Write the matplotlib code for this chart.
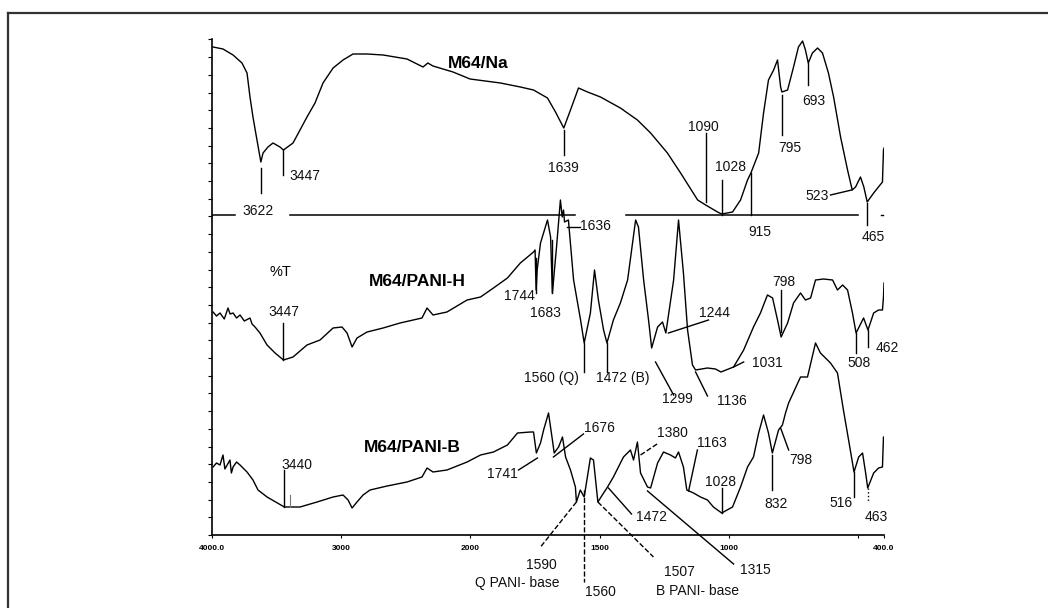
import numpy as np
import matplotlib
matplotlib.use("Agg")
import matplotlib.pyplot as plt
from matplotlib.lines import Line2D
from matplotlib.ticker import FixedLocator, MultipleLocator

plt.rcParams["font.family"] = ["Liberation Sans", "DejaVu Sans"]

# FTIR spectra, wavenumber (cm-1) vs. stacked %T (arbitrary offset units)
na_wn = [3992, 3915, 3837, 3768, 3729, 3706, 3683, 3652, 3622, 3605, 3567, 3528,
         3474, 3447, 3373, 3319, 3265, 3203, 3141, 3063, 2986, 2909, 2800, 2676,
         2491, 2367, 2330, 2290, 2135, 2003, 1884, 1807, 1756, 1702, 1671, 1639,
         1613, 1582, 1547, 1497, 1420, 1354, 1303, 1238, 1187, 1121, 1090, 1044,
         1028, 986, 955, 928, 915, 885, 866, 847, 827, 812, 800, 795, 773, 750,
         731, 715, 704, 693, 677, 657, 638, 615, 595, 568, 541, 523, 510, 491,
         478, 465, 440, 406, 402, 400]
na_t = [488, 486, 480, 472, 462, 438, 418, 395, 373, 382, 388, 392,
        388, 385, 392, 405, 418, 432, 452, 467, 475, 481, 481, 480,
        476, 468, 472, 469, 463, 456, 452, 448, 445, 437, 423, 407,
        425, 447, 443, 438, 427, 415, 402, 382, 362, 335, 330, 323,
        321, 323, 335, 355, 362, 382, 422, 455, 465, 475, 448, 443, 445, 468,
        488, 494, 485, 472, 482, 487, 482, 462, 438, 398, 365, 345, 348, 358,
        348, 333, 342, 353, 385, 387]

h_wn = [3992, 3965, 3938, 3905, 3876, 3860, 3837, 3810, 3783, 3750, 3706, 3690,
        3667, 3629, 3574, 3512, 3447, 3373, 3265, 3164, 3063, 2994, 2955, 2916,
        2878, 2800, 2676, 2545, 2375, 2336, 2290, 2182, 2026, 1961, 1911, 1857,
        1807, 1756, 1750, 1746, 1742, 1729, 1702, 1690, 1683, 1667, 1652, 1645,
        1640, 1636, 1621, 1601, 1574, 1560, 1536, 1520, 1505, 1485, 1472, 1447,
        1420, 1392, 1361, 1350, 1330, 1311, 1299, 1276, 1257, 1244, 1214, 1195,
        1176, 1160, 1141, 1129, 1083, 1052, 1031, 982, 943, 905, 878, 851,
        831, 812, 798, 773, 750, 723, 704, 684, 665, 634, 599, 580, 560, 541,
        522, 508, 479, 462, 440, 421, 406, 402, 400]
h_t = [223, 219, 222, 216, 227, 221, 222, 217, 220, 214, 217, 211,
       208, 202, 190, 182, 175, 178, 190, 195, 207, 208, 202, 188,
       197, 203, 207, 212, 217, 227, 220, 223, 235, 238, 247, 257,
       272, 283, 285, 245, 265, 292, 315, 298, 242, 288, 335, 318,
       325, 313, 315, 255, 215, 192, 222, 265, 235, 205, 192, 215,
       232, 255, 315, 308, 255, 215, 187, 208, 213, 202, 255, 315,
       262, 205, 170, 165, 167, 166, 163, 168, 185, 208, 222, 240,
       237, 215, 198, 212, 232, 242, 235, 237, 255, 256, 255, 245, 250, 245,
       222, 202, 217, 205, 222, 225, 225, 238, 252]

b_wn = [3992, 3965, 3938, 3915, 3900, 3861, 3850, 3837, 3810, 3783, 3729, 3683,
        3644, 3574, 3440, 3319, 3187, 3063, 2986, 2947, 2916, 2878, 2831, 2777,
        2645, 2491, 2375, 2336, 2290, 2182, 2026, 1961, 1911, 1857, 1818, 1768,
        1756, 1745, 1729, 1717, 1698, 1683, 1676, 1659, 1644, 1632, 1613, 1594,
        1590, 1575, 1560, 1536, 1524, 1507, 1485, 1472, 1447, 1408, 1381, 1369,
        1354, 1342, 1315, 1303, 1276, 1253, 1226, 1207, 1195, 1176, 1163, 1137,
        1110, 1083, 1060, 1028, 986, 955, 928, 905, 885, 866, 847, 832,
        808, 793, 781, 769, 723, 696, 665, 646, 607, 580, 557, 537,
        516, 498, 483, 471, 463, 440, 421, 406, 402, 400]
b_t = [68, 72, 70, 80, 66, 75, 62, 68, 73, 70, 63, 55,
       45, 38, 28, 28, 33, 38, 40, 35, 27, 33, 40, 45,
       49, 53, 58, 67, 63, 65, 73, 80, 83, 90, 102, 103,
       103, 82, 92, 105, 122, 95, 82, 88, 98, 78, 65, 48,
       33, 45, 38, 77, 75, 33, 42, 47, 58, 78, 85, 75,
       93, 62, 48, 47, 72, 83, 80, 77, 83, 68, 45, 42,
       38, 35, 28, 22, 28, 48, 68, 78, 102, 120, 102, 82,
       105, 110, 122, 132, 158, 158, 192, 182, 172, 162, 125, 95,
       63, 78, 82, 62, 47, 62, 67, 68, 98, 98]

x_ticks = [4000, 3000, 2000, 1500, 1000, 400]
x_ticklabels = ["4000.0", "3000", "2000", "1500", "1000", "400.0"]

# peak marks: text, line start, line end, text anchor, ha, line style
peaks = [
    # M64/Na
    ("3622", (3622, 367), (3622, 342), (3640, 324), "center", "-"),
    ("3447", (3447, 385), (3447, 360), (3404, 359), "left", "-"),
    ("1639", (1639, 405), (1639, 380), (1639, 367), "center", "-"),
    ("1090", (1090, 333), (1090, 402), (1100, 408), "center", "-"),
    ("1028", (1028, 320), (1028, 355), (995, 368), "center", "-"),
    ("915", (915, 362), (915, 320), (882, 303), "center", "-"),
    ("795", (795, 440), (795, 400), (765, 387), "center", "-"),
    ("693", (693, 472), (693, 450), (672, 434), "center", "-"),
    ("523", (607, 340), (525, 345), (615, 339), "right", "-"),
    ("465", (465, 332), (465, 310), (440, 298), "center", "-"),
    # M64/PANI-H
    ("3447", (3447, 175), (3447, 212), (3447, 223), "center", "-"),
    ("1744", (1748, 277), (1748, 242), (1752, 239), "right", "-"),
    ("1683", (1683, 295), (1683, 242), (1710, 222), "center", "-"),
    ("1636", (1625, 308), (1578, 308), (1575, 309), "left", "-"),
    ("1560 (Q)", (1560, 192), (1560, 163), (1687, 157), "center", "-"),
    ("1472 (B)", (1472, 192), (1472, 163), (1412, 157), "center", "-"),
    ("1299", (1284, 173), (1214, 140), (1199, 136), "center", "-"),
    ("1136", (1129, 163), (1083, 139), (990, 134), "center", "-"),
    ("1244", (1234, 202), (1079, 215), (1056, 222), "center", "-"),
    ("1031", (982, 168), (943, 173), (909, 172), "left", "-"),
    ("798", (798, 203), (798, 245), (789, 253), "center", "-"),
    ("508", (508, 202), (508, 182), (498, 172), "center", "-"),
    ("462", (462, 205), (462, 188), (433, 187), "left", "-"),
    # M64/PANI-B
    ("3440", (3440, 28), (3440, 65), (3345, 70), "center", "-"),
    ("1741", (1741, 77), (1814, 65), (1818, 61), "right", "-"),
    ("1676", (1679, 78), (1563, 101), (1560, 107), "left", "-"),
    ("1380", (1342, 80), (1272, 92), (1218, 102), "center", "--"),
    ("1163", (1156, 44), (1122, 85), (1067, 92), "center", "-"),
    ("1028", (1028, 22), (1028, 47), (1032, 53), "center", "-"),
    ("832", (832, 80), (832, 45), (816, 31), "center", "-"),
    ("798", (800, 107), (769, 85), (723, 75), "center", "-"),
    ("516", (516, 63), (516, 38), (568, 32), "center", "-"),
    ("463", (463, 47), (463, 33), (429, 18), "center", ":"),
    ("1472", (1466, 47), (1377, 21), (1300, 18), "center", "-"),
    ("1315", (1315, 44), (982, -29), (897, -35), "center", "-"),
    ("1507", (1507, 33), (1292, -22), (1191, -37), "center", "--"),
    ("1560", (1560, 45), (1560, -47), (1497, -57), "center", "--"),
    ("1590", (1590, 33), (1729, -12), (1725, -30), "center", "--"),
]
extra_text = [
    ("B PANI- base", (1122, -56)),
    ("Q PANI- base", (1818, -48)),
]
names = [("M64/Na", (1969, 472)), ("M64/PANI-H", (2413, 253)), ("M64/PANI-B", (2452, 87))]

# divider under the top spectrum, broken where labels and peaks cross it
divider_y = 320
divider_segments = [(4000, 3822), (3396, 1594), (1400, 502)]


def fwd(x):
    x = np.asarray(x, float)
    return np.where(x >= 2000, x, 2 * x - 2000)


def inv(u):
    u = np.asarray(u, float)
    return np.where(u >= 2000, u, (u + 2000) / 2)


fig = plt.figure(figsize=(10.48, 6.08), dpi=100)
ax = fig.add_axes([212 / 1048, 1 - 535 / 608, 672 / 1048, 496 / 608])
ax.set_xscale("function", functions=(fwd, inv))
ax.set_xlim(4000, 400)
ax.set_ylim(0, 496)

for wn, t in [(na_wn, na_t), (h_wn, h_t), (b_wn, b_t)]:
    ax.plot(wn, t, color="black", lw=1.0)

for a, b in divider_segments:
    ax.plot([a, b], [divider_y, divider_y], color="black", lw=1.1)
ax.plot([410, 402], [divider_y, divider_y], color="black", lw=1.0, clip_on=False)
ax.plot([3396, 3396], [28, 40], color="#777777", lw=0.8)

for text, p0, p1, tp, ha, ls in peaks:
    ax.plot([p0[0], p1[0]], [p0[1], p1[1]], color="black", lw=1.0, ls=ls,
            clip_on=False)
    ax.text(tp[0], tp[1], text, ha=ha, va="center", fontsize=10,
            color="#111111", clip_on=False)
for text, tp in extra_text:
    ax.text(tp[0], tp[1], text, ha="center", va="center", fontsize=10,
            color="#111111", clip_on=False)
for text, tp in names:
    ax.text(tp[0], tp[1], text, ha="center", va="center", fontsize=12.5,
            fontweight="bold", color="black")

ax.text(3474, 263, "%T", ha="center", va="center", fontsize=10.5)

for side in ("top", "right"):
    ax.spines[side].set_visible(False)
for side in ("left", "bottom"):
    ax.spines[side].set_linewidth(1.2)

ax.xaxis.set_major_locator(FixedLocator(x_ticks))
ax.xaxis.set_minor_locator(FixedLocator([500]))
ax.set_xticklabels(x_ticklabels, fontsize=6, fontweight="bold")
ax.tick_params(axis="x", which="both", length=2, width=0.8, pad=5)
ax.yaxis.set_major_locator(MultipleLocator(17.7))
ax.tick_params(axis="y", length=3, width=0.8, labelleft=False)

# outer frame (top and left edges)
fig.add_artist(Line2D([8 / 1048, 1], [1 - 13 / 608] * 2, color="#333333", lw=1.6))
fig.add_artist(Line2D([8 / 1048] * 2, [0, 1 - 13 / 608], color="#333333", lw=1.6))

fig.savefig("out.png", dpi=100)
